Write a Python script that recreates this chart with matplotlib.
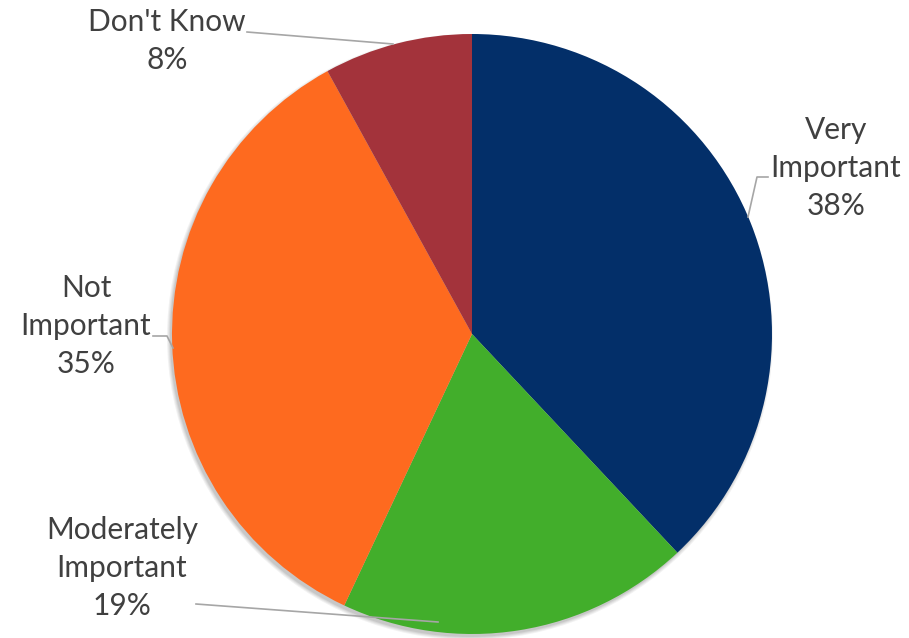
import matplotlib
matplotlib.use("Agg")
import matplotlib.pyplot as plt
from matplotlib.patches import Circle
import numpy as np

categories = ["Very\nImportant", "Moderately\nImportant", "Not\nImportant", "Don't Know"]
values = [38, 19, 35, 8]
colors = ["#032F69", "#42AE2B", "#FE6A1F", "#A3333B"]

W, H = 909, 638
fig = plt.figure(figsize=(W / 100, H / 100), dpi=100)
ax = fig.add_axes([0, 0, 1, 1])
ax.set_xlim(0, W)
ax.set_ylim(0, H)
ax.set_aspect("equal")
ax.axis("off")

def Y(y):
    return H - y

cx, cy, r = 472, Y(334), 300

# soft shadow
for i, a in enumerate([0.05, 0.05, 0.06, 0.07]):
    ax.add_patch(Circle((cx - 2, cy - 3), r + 3 - i, color="black", alpha=a, lw=0, zorder=0))

ax.pie(values, colors=colors, startangle=90, counterclock=False,
       center=(cx, cy), radius=r, wedgeprops=dict(linewidth=0), frame=True)
ax.set_xlim(0, W)
ax.set_ylim(0, H)
ax.axis("off")

tc = "#404040"
fs = 21.5
font = "Lato"
labels_pos = [(836, 168), (122, 568), (86, 326), (167, 41)]
for lab, v, (x, y) in zip(categories, values, labels_pos):
    ax.text(x, Y(y), f"{lab}\n{v}%", ha="center", va="center", fontsize=fs,
            color=tc, family=font, linespacing=1.42, zorder=5)

lc = "#A6A6A6"
leaders = [
    [(768, 177), (757, 177), (748, 217)],
    [(196, 604), (438, 622)],
    [(153, 336), (167, 336), (173, 348)],
    [(247, 32), (393, 44)],
]
for pts in leaders:
    xs = [p[0] for p in pts]
    ys = [Y(p[1]) for p in pts]
    ax.plot(xs, ys, color=lc, lw=1.2, zorder=4)

fig.savefig("out.png", dpi=100)
